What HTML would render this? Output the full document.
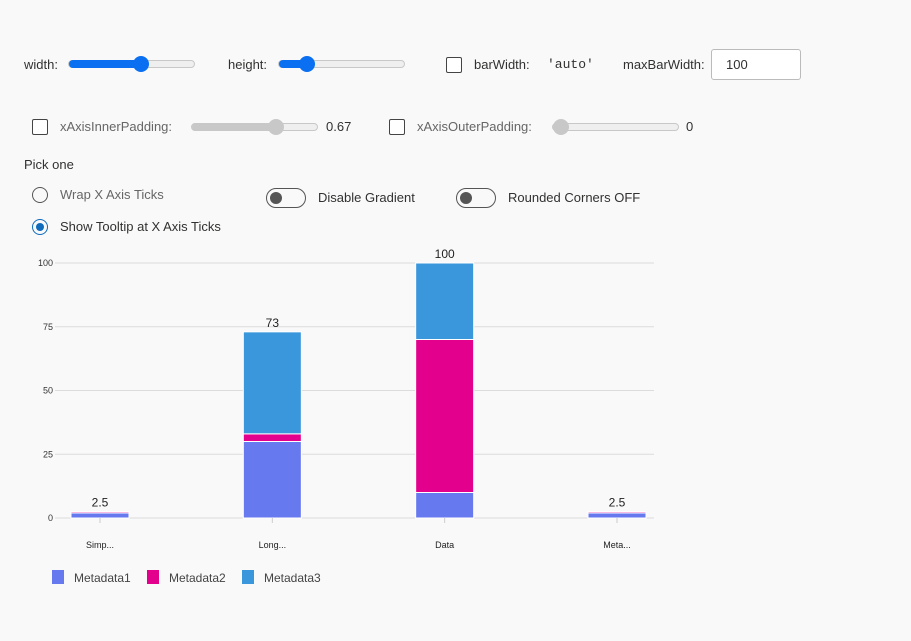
<!DOCTYPE html>
<html><head><meta charset="utf-8">
<style>
body{margin:0;width:911px;height:641px;background:#f9f9f9;font-family:"Liberation Sans",sans-serif;font-size:13px;color:#323130;position:relative;overflow:hidden}
.a{position:absolute;white-space:nowrap}
.track{position:absolute;height:8px;border-radius:4px;background:#efefef;border:1px solid #c8c8c8;box-sizing:border-box}
.fill{position:absolute;left:0;top:-1px;height:8px;border-radius:4px}
.thumb{position:absolute;width:16px;height:16px;border-radius:50%;top:-5px}
.cb{position:absolute;width:15px;height:15px;border:1px solid #444;border-radius:2px;box-sizing:border-box;background:#fff}
.tog{position:absolute;width:40px;height:20px;border:1px solid #555;border-radius:10px;box-sizing:border-box}
.tog::after{content:"";position:absolute;left:3px;top:3px;width:12px;height:12px;border-radius:50%;background:#555}
</style></head><body>
<div class="a" style="left:24px;top:57px">width:</div>
<div class="track" style="left:68px;top:60px;width:127px"><div class="fill" style="width:72px;background:#0a6ff0"></div><div class="thumb" style="left:64px;background:#0a6ff0"></div></div>
<div class="a" style="left:228px;top:57px">height:</div>
<div class="track" style="left:278px;top:60px;width:127px"><div class="fill" style="width:30px;background:#0a6ff0"></div><div class="thumb" style="left:20px;background:#0a6ff0"></div></div>
<div class="cb" style="left:446px;top:57px;width:16px;height:16px"></div>
<div class="a" style="left:474px;top:57px">barWidth:</div>
<div class="a" style="left:547px;top:57px;font-family:'Liberation Mono',monospace">'auto'</div>
<div class="a" style="left:623px;top:57px">maxBarWidth:</div>
<div class="a" style="left:711px;top:49px;width:90px;height:31px;border:1px solid #bbb;border-radius:3px;background:#fff;box-sizing:border-box;padding:7px 0 0 14px">100</div>
<div class="cb" style="left:32px;top:119px;width:16px;height:16px"></div>
<div class="a" style="left:60px;top:119px;color:#666">xAxisInnerPadding:</div>
<div class="track" style="left:191px;top:123px;width:127px"><div class="fill" style="width:88px;background:#c8c8c8"></div><div class="thumb" style="left:76px;background:#c8c8c8"></div></div>
<div class="a" style="left:326px;top:119px">0.67</div>
<div class="cb" style="left:389px;top:119px;width:16px;height:16px"></div>
<div class="a" style="left:417px;top:119px;color:#666">xAxisOuterPadding:</div>
<div class="track" style="left:552px;top:123px;width:127px"><div class="thumb" style="left:0px;background:#c8c8c8"></div></div>
<div class="a" style="left:686px;top:119px">0</div>
<div class="a" style="left:24px;top:157px">Pick one</div>
<div class="a" style="left:32px;top:187px;width:16px;height:16px;border:1px solid #555;border-radius:50%;box-sizing:border-box"></div>
<div class="a" style="left:60px;top:187px;color:#666">Wrap X Axis Ticks</div>
<div class="a" style="left:32px;top:219px;width:16px;height:16px;border:1px solid #0f6cbd;border-radius:50%;box-sizing:border-box"><div style="position:absolute;left:3px;top:3px;width:8px;height:8px;border-radius:50%;background:#0f6cbd"></div></div>
<div class="a" style="left:60px;top:219px">Show Tooltip at X Axis Ticks</div>
<div class="tog" style="left:266px;top:188px"></div>
<div class="a" style="left:318px;top:190px">Disable Gradient</div>
<div class="tog" style="left:456px;top:188px"></div>
<div class="a" style="left:508px;top:190px">Rounded Corners OFF</div>
<svg id="chart" class="a" style="left:0;top:0" width="911" height="641"></svg>
<script>
const categories=["Simp...","Long...","Data","Meta..."];
const metadata1=[2,30,10,2];
const metadata2=[0.5,3,60,0.5];
const metadata3=[0,40,30,0];
const yTicks=[0,25,50,75,100];
const seriesNames=["Metadata1","Metadata2","Metadata3"];
const colors=["#6779ef","#e3008c","#3b97dc"];
const NS="http://www.w3.org/2000/svg";
const svg=document.getElementById('chart');
const x0=55,x1=654,y0=518,yTop=263,yMax=100;
const y=v=>y0-(y0-yTop)*v/yMax;
const step=(617-100)/(categories.length-1);
const xc=i=>100+i*step;
const bw=58;
function mk(t,a){const e=document.createElementNS(NS,t);for(const k in a)e.setAttribute(k,a[k]);svg.appendChild(e);return e;}
yTicks.forEach(t=>{
  const l=mk('line',{x1:x0,x2:x1,y1:y(t),y2:y(t),stroke:'#dcdcdc','stroke-width':1});
  
  
  const tx=mk('text',{x:53,y:y(t)+3,'text-anchor':'end','font-size':9,fill:'#333'});tx.textContent=t;
  
  
});
const series=[metadata1,metadata2,metadata3];
categories.forEach((c,i)=>{
  let acc=0;
  series.forEach((s,j)=>{
    if(s[i]<=0)return;
    const r=mk('rect',{x:xc(i)-bw/2,y:y(acc+s[i]),width:bw,height:y(acc)-y(acc+s[i]),fill:colors[j],stroke:'#fff','stroke-width':1});
    
    
    acc+=s[i];
  });
  const tl=mk('text',{x:xc(i),y:y(acc)-5,'text-anchor':'middle','font-size':12,fill:'#222'});tl.textContent=+acc.toFixed(1);
  
  
  mk('line',{x1:xc(i),x2:xc(i),y1:y0,y2:y0+5,stroke:'#ccc'});
  const xl=mk('text',{x:xc(i),y:y0+30,'text-anchor':'middle','font-size':9,fill:'#222'});xl.textContent=c;
  
  
});
const legX=[52,147,242];
seriesNames.forEach((n,j)=>{
  const r=mk('rect',{x:legX[j],y:570,width:12,height:14,fill:colors[j]});
  
  
  const t=mk('text',{x:legX[j]+22,y:582,'font-size':12,fill:'#444'});t.textContent=n;
  
  
});
</script>
</body></html>
